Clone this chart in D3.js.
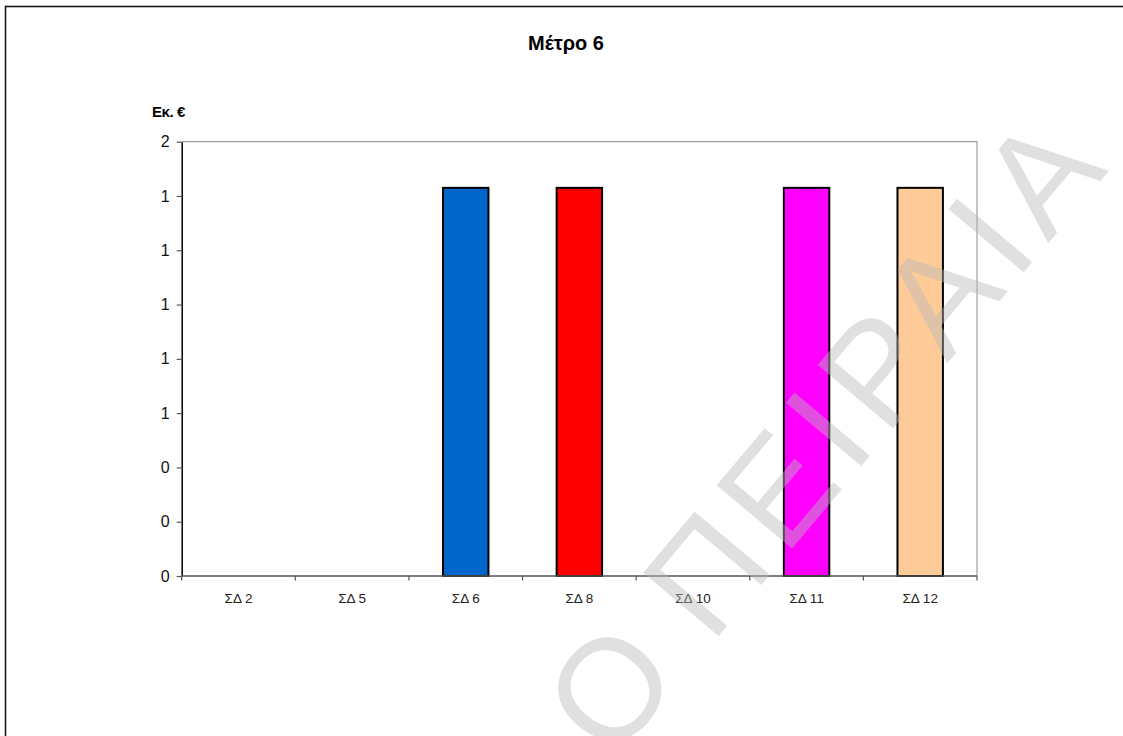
<!DOCTYPE html>
<html>
<head>
<meta charset="utf-8">
<script src="https://cdn.jsdelivr.net/npm/d3@7"></script>
<style>
  html, body { margin: 0; padding: 0; background: #fff; }
  svg { display: block; font-family: "Liberation Sans", Arial, sans-serif; }
</style>
</head>
<body>
<svg id="chart" width="1123" height="736"></svg>
<script>
// Categories and values (million €)
const categories = ["ΣΔ 2", "ΣΔ 5", "ΣΔ 6", "ΣΔ 8", "ΣΔ 10", "ΣΔ 11", "ΣΔ 12"];
const values = [0, 0, 1.43, 1.43, 0, 1.43, 1.43];
const barColors = ["#9999FF", "#993366", "#0066CC", "#FF0000", "#CCFFFF", "#FF00FF", "#FFCC99"];

// Value axis ticks and their printed labels (integer number format)
const yTickValues = [0, 0.2, 0.4, 0.6, 0.8, 1.0, 1.2, 1.4, 1.6];
const yTickLabels = ["0", "0", "0", "1", "1", "1", "1", "1", "2"];

const titleText = "Μέτρο 6";
const unitText = "Εκ. €";
const watermarkText = "Ο ΠΕΙΡΑΙΑ";

const svg = d3.select("#chart");
const W = 1123, H = 736;
const plot = { left: 181.7, right: 977, top: 141.7, bottom: 576 };

// Outer chart frame
svg.append("rect")
  .attr("x", 5.5).attr("y", 6.5)
  .attr("width", W + 20).attr("height", H + 20)
  .attr("fill", "#fff")
  .attr("stroke", "#1a1a1a").attr("stroke-width", 1.6);

const x = d3.scaleBand().domain(categories).range([plot.left, plot.right]).padding(0);
const y = d3.scaleLinear().domain([0, 1.6]).range([plot.bottom, plot.top]);

// Plot area border (top and right)
svg.append("path")
  .attr("d", `M${plot.left},${plot.top}H${plot.right}V${plot.bottom}`)
  .attr("fill", "none").attr("stroke", "#a0a0a0").attr("stroke-width", 1.2);

// Bars (gap width 150%)
const barW = x.bandwidth() / 2.5;
const data = categories.map((c, i) => ({ c, v: values[i], color: barColors[i] }));
svg.append("g").selectAll("rect")
  .data(data.filter(d => d.v > 0))
  .join("rect")
  .attr("x", d => x(d.c) + (x.bandwidth() - barW) / 2)
  .attr("y", d => y(d.v))
  .attr("width", barW)
  .attr("height", d => y(0) - y(d.v))
  .attr("fill", d => d.color)
  .attr("stroke", "#000").attr("stroke-width", 2);

// Y axis
const yAxis = svg.append("g")
  .attr("transform", `translate(${plot.left},0)`)
  .call(d3.axisLeft(y)
    .tickValues(yTickValues)
    .tickFormat((d, i) => yTickLabels[i])
    .tickSize(5).tickPadding(7).tickSizeOuter(0));
yAxis.select(".domain").attr("stroke", "#000").attr("stroke-width", 1.5);
yAxis.selectAll(".tick line").attr("stroke", "#555").attr("stroke-width", 1.2);
yAxis.selectAll(".tick text")
  .attr("fill", "#111").attr("font-size", 16)
  .attr("font-family", "Liberation Sans, Arial, sans-serif");

// X axis: labels centred in each category, ticks on the category boundaries
const xAxis = svg.append("g")
  .attr("transform", `translate(0,${plot.bottom})`)
  .call(d3.axisBottom(x).tickSize(0).tickPadding(17.5));
xAxis.select(".domain").remove();
xAxis.selectAll(".tick text")
  .attr("fill", "#222").attr("font-size", 13.5)
  .attr("font-family", "Liberation Sans, Arial, sans-serif");

const bounds = categories.map(c => x(c)).concat([x.range()[1]]);
svg.append("line")
  .attr("x1", plot.left).attr("x2", plot.right)
  .attr("y1", plot.bottom).attr("y2", plot.bottom)
  .attr("stroke", "#555").attr("stroke-width", 1.5);
svg.append("g").selectAll("line")
  .data(bounds)
  .join("line")
  .attr("x1", d => d).attr("x2", d => d)
  .attr("y1", plot.bottom).attr("y2", plot.bottom + 4.5)
  .attr("stroke", "#555").attr("stroke-width", 1.2);

// Title and unit label
svg.append("text")
  .attr("x", 566).attr("y", 50)
  .attr("text-anchor", "middle")
  .attr("font-size", 20).attr("font-weight", "bold")
  .attr("fill", "#000")
  .text(titleText);

svg.append("text")
  .attr("x", 152).attr("y", 116.5)
  .attr("font-size", 15).attr("font-weight", "bold")
  .attr("letter-spacing", -0.4)
  .attr("fill", "#000")
  .text(unitText);

// Diagonal watermark
svg.append("text")
  .attr("transform", "translate(612,763) rotate(-50)")
  .attr("font-size", 143)
  .attr("letter-spacing", 11)
  .attr("word-spacing", -19)
  .attr("fill", "rgb(184,184,184)")
  .attr("fill-opacity", 0.44)
  .text(watermarkText);
</script>
</body>
</html>
